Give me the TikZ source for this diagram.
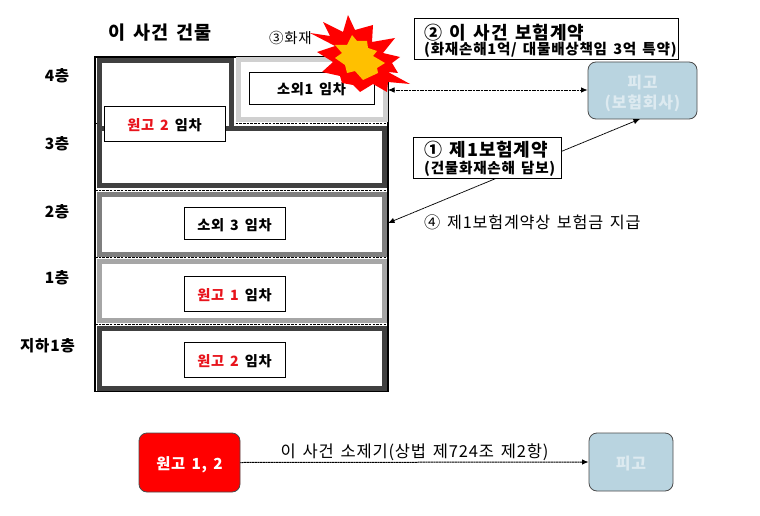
\documentclass[tikz,border=0pt]{standalone}
\usepackage{fontspec}
\setmainfont[WordSpace=1.5,LetterSpace=5]{Noto Sans CJK KR}
\usetikzlibrary{arrows.meta}
\definecolor{frameA}{HTML}{404040}
\definecolor{frameB}{HTML}{7F7F7F}
\definecolor{frameC}{HTML}{A6A6A6}
\definecolor{frameD}{HTML}{D0D0D0}
\definecolor{paleblue}{HTML}{B9D4E0}
\definecolor{fainttext}{HTML}{DDEAF0}
\definecolor{txtred}{HTML}{E8141C}
\definecolor{burstyellow}{HTML}{FFC000}
\tikzset{
  room/.style={draw=#1,line width=5pt,fill=white},
  tenant/.style={draw=black,fill=white,line width=0.9pt,font=\bfseries\fontsize{14.2}{16}\selectfont,inner sep=0pt,anchor=center},
  floorlabel/.style={font=\bfseries\fontsize{15.5}{17}\selectfont,anchor=center},
  contract/.style={draw=black,fill=white,line width=0.9pt,inner sep=0pt},
  party/.style={rounded corners=8pt,draw=black!70,line width=0.8pt,inner sep=0pt,align=center},
  link/.style={line width=0.8pt,dash pattern=on 1.2pt off 0.4pt},
  dividing/.style={draw=black,dash pattern=on 2.5pt off 1.2pt,line width=0.8pt},
}
\newcommand{\rd}[1]{\textcolor{txtred}{#1}}
\newcommand{\lowered}[1]{\raisebox{-7pt}[0pt][0pt]{#1}}
\begin{document}
\begin{tikzpicture}[x=1pt,y=-1pt]
\useasboundingbox (0,0) rectangle (760,516);
\fill[white] (0,0) rectangle (760,516);
% building
\draw[black,line width=1.2pt] (95,57) rectangle (388,391.5);
\foreach \yy in {123,190,257,324}
  \draw[dividing] (95,\yy) -- (388,\yy);
\draw[room=frameD] (238.5,60) rectangle (385,119.5);
\draw[room=frameA] (99.5,60.5) rectangle (231,129);
\draw[room=frameA] (99.5,128.5) rectangle (384.5,185.5);
\draw[room=frameB] (99.5,194.5) rectangle (384.5,254.5);
\draw[room=frameC] (99.5,261.5) rectangle (384.5,320.5);
\draw[room=frameA] (99.5,328.5) rectangle (384.5,388.5);
% tenants
\node[tenant,minimum width=125pt,minimum height=32pt] (t1) at (311.5,88) {\lowered{소외1 임차}};
\node[tenant,minimum width=121pt,minimum height=35pt] (t2) at (164.5,123.5) {\lowered{\rd{원고 2} 임차}};
\node[tenant,minimum width=101pt,minimum height=32pt] (t3) at (234.5,223) {\lowered{소외 3 임차}};
\node[tenant,minimum width=101pt,minimum height=35pt] (t4) at (234.5,293.5) {\lowered{\rd{원고 1} 임차}};
\node[tenant,minimum width=101pt,minimum height=35pt] (t5) at (234.5,359.5) {\lowered{\rd{원고 2} 임차}};
% labels
\node[font=\bfseries\fontsize{18.5}{20}\selectfont] (title) at (160,33) {이 사건 건물};
\node[font=\fontsize{14.5}{16}\selectfont] (fire) at (290.5,38) {③화재};
\node[floorlabel] (f4) at (57,76) {4층};
\node[floorlabel] (f3) at (57,144) {3층};
\node[floorlabel] (f2) at (57,212) {2층};
\node[floorlabel] (f1) at (57,278) {1층};
\node[floorlabel] (fb) at (47.5,346) {지하1층};
% parties
\node[party,fill=paleblue,text=fainttext,minimum width=109pt,minimum height=57pt,font=\bfseries\fontsize{16}{20}\selectfont] (def1) at (642.5,90.5) {\rule{0pt}{19pt}피고\\(보험회사)};
\node[party,fill=red,text=white,minimum width=101pt,minimum height=59pt,font=\bfseries\fontsize{15.3}{17}\selectfont] (pl) at (189.5,462.5) {\lowered{원고 1, 2}};
\node[party,fill=paleblue,text=fainttext,minimum width=84pt,minimum height=58pt,font=\bfseries\fontsize{16}{17}\selectfont] (def2) at (631,462) {\lowered{피고}};
% connectors
\coordinate (wallA) at (388,90);
\coordinate (wallB) at (388,223);
\coordinate (defB) at (640,119);
\draw[link,{Latex[length=6.5pt,width=5.5pt]}-{Latex[length=6.5pt,width=5.5pt]}] (wallA) -- (def1.west |- wallA);
\draw[link,{Latex[length=6.5pt,width=5.5pt]}-{Latex[length=6.5pt,width=5.5pt]}] (wallB) -- (defB);
\draw[link,line width=1pt,-{Latex[length=6.5pt,width=5.5pt]}] (pl.east) -- (def2.west);
% contracts
\node[contract,minimum width=264pt,minimum height=41pt] (c2) at (546,38.5) {};
\node[font=\bfseries\fontsize{18}{20}\selectfont,anchor=west,inner sep=0pt] (c2a) at (424,33) {② 이 사건 보험계약};
\node[font=\bfseries\fontsize{14.6}{16}\selectfont,anchor=west,inner sep=0pt] (c2b) at (424,50) {(화재손해1억/ 대물배상책임 3억 특약)};
\node[contract,minimum width=148pt,minimum height=41pt] (c1) at (487,157.5) {};
\node[font=\bfseries\fontsize{18}{20}\selectfont,anchor=west,inner sep=0pt] (c1a) at (424,150) {① 제1보험계약};
\node[font=\bfseries\fontsize{14.6}{16}\selectfont,anchor=west,inner sep=0pt] (c1b) at (424,169) {(건물화재손해 담보)};
\node[font=\fontsize{16.2}{18}\selectfont,anchor=west,inner sep=0pt] (pay) at (424,222) {④ 제1보험계약상 보험금 지급};
\node[font=\fontsize{16.5}{18}\selectfont] (suit) at (414.5,452) {이 사건 소제기(상법 제724조 제2항)};
% burst
\fill[red] (348,15)--(355,30)--(373,25)--(372,42)--(395,38)--(383,53)--(400,57)--(392,63)--(398,73)--(388,72)--(410,84)--(388,82)--(387,92)--(373,84)--(360,92)--(353,85)--(342,83)--(340,76)--(322,72)--(333,62)--(317,52)--(335,46)--(310,33)--(330,36)--(323,22)--(343,32)--cycle;
\fill[burstyellow] (352,35)--(357,41)--(367,41)--(368,48)--(377,51)--(373,56)--(385,63)--(377,68)--(378,73)--(363,80)--(355,71)--(347,73)--(345,65)--(335,58)--(342,53)--(335,45)--(347,45)--cycle;
\end{tikzpicture}
\end{document}
